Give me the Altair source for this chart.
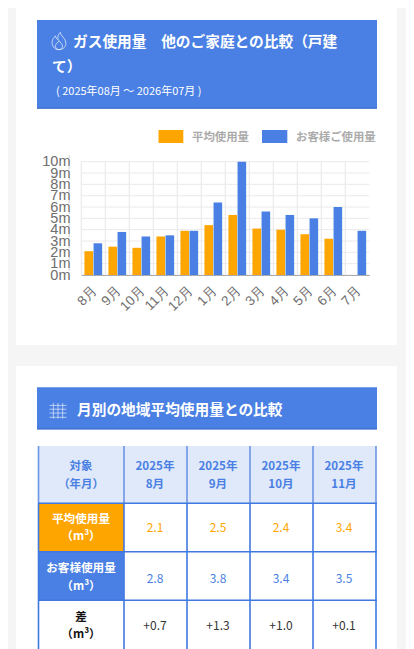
import altair as alt
import pandas as pd

months = ["8月", "9月", "10月", "11月", "12月", "1月", "2月", "3月", "4月", "5月", "6月", "7月"]
average = [2.1, 2.5, 2.4, 3.4, 3.9, 4.4, 5.3, 4.1, 4.0, 3.6, 3.2, None]
customer = [2.8, 3.8, 3.4, 3.5, 3.9, 6.4, 10.0, 5.6, 5.3, 5.0, 6.0, 3.9]
y_ticks = list(range(0, 11))
series_names = ["平均使用量", "お客様ご使用量"]

table_months = ["2025年8月", "2025年9月", "2025年10月", "2025年11月"]
table_head = [("2025年", "8月"), ("2025年", "9月"), ("2025年", "10月"), ("2025年", "11月")]
table_avg = ["2.1", "2.5", "2.4", "3.4"]
table_cust = ["2.8", "3.8", "3.4", "3.5"]
table_diff = ["+0.7", "+1.3", "+1.0", "+0.1"]

ORANGE = "#FFA500"
BLUE = "#4A7FE3"
LINE = "#3F78E0"
CJK = "Noto Sans CJK JP"
OX, OY = 8, 8
W, H = 398, 641
TY = 1.3
ONE = alt.Data(values=[{}])


def box(x0, y0, x1, y1, color):
    return alt.Chart(ONE).mark_rect(color=color).encode(
        x=alt.value(x0 - OX), x2=alt.value(x1 - OX),
        y=alt.value(y0 - OY), y2=alt.value(y1 - OY))


def txt(x, y, s, size, color, weight="bold", align="center", font=CJK):
    return alt.Chart(ONE).mark_text(text=s, fontSize=size, color=color, fontWeight=weight,
                                    align=align, baseline="middle", font=font).encode(
        x=alt.value(x - OX), y=alt.value(y - OY + TY))


def icon(x, y, path, size, width=0.8):
    return alt.Chart(ONE).mark_point(shape=path, size=size, filled=False, stroke="white",
                                     strokeWidth=width, opacity=0.85).encode(
        x=alt.value(x - OX), y=alt.value(y - OY))


FLAME = ("M0,1C-.6,1-.8,.5-.8,.15C-.8,-.2-.55,-.4-.4,-.6C-.35,-.3-.25,-.2-.1,-.15"
         "C-.2,-.5-.05,-.85.15,-1C.15,-.6.8,-.3.8,.25C.8,.65.5,1,0,1Z"
         "M0,1C-.35,1-.45,.7-.4,.5C-.35,.3-.1,.2,0,-.05C.15,.2.4,.35.4,.6C.4,.85.2,1,0,1Z")
GRID = ("M-1,-.6H1M-1,-.15H1M-1,.3H1M-1,.8H1"
        "M-.55,-.9V.95M0,-.9V.95M.55,-.9V.95")

layers = [
    box(16, 0, 397, 345, "white"),
    box(16, 366, 397, 660, "white"),
    # header 1
    box(37, 20, 377, 108.5, BLUE),
    box(37, 107.5, 377, 108.7, "#3E6FCC"),
    icon(59, 41, FLAME, 300),
    txt(73, 42, "ガス使用量　他のご家庭との比較（戸建", 14.7, "white", align="left"),
    txt(52, 67, "て）", 14.7, "white", align="left"),
    txt(56, 91, "( 2025年08月 〜 2026年07月 )", 11, "white", weight="normal", align="left"),
    # legend
    box(158.5, 130, 183.3, 143, ORANGE),
    box(262, 130, 287.3, 143, BLUE),
    txt(192, 137, series_names[0], 11.4, "#ABABAB", align="left"),
    txt(296, 137, series_names[1], 11.4, "#ABABAB", align="left"),
]

# chart
x_range = [81.3 - OX, 369.3 - OX]
y_range = [275 - OY, 161.7 - OY]
bars = pd.DataFrame(
    [{"m": m, "s": series_names[0], "v": a} for m, a in zip(months, average)] +
    [{"m": m, "s": series_names[1], "v": c} for m, c in zip(months, customer)])
grid_x = pd.DataFrame({"m": months})
grid_y = pd.DataFrame({"t": y_ticks})
x_scale = alt.Scale(domain=months, range=x_range, paddingInner=0, paddingOuter=0)
y_scale = alt.Scale(domain=[0, 10], range=y_range, nice=False, zero=True)

layers += [
    alt.Chart(grid_x).mark_rule(color="#E6E6E6", strokeWidth=1).encode(
        x=alt.X("m:N", scale=x_scale, bandPosition=0, axis=None, sort=None),
        y=alt.value(y_range[1]), y2=alt.value(y_range[0])),
    alt.Chart(grid_y).mark_rule(color="#EAEAEA", strokeWidth=1).encode(
        y=alt.Y("t:Q", scale=y_scale, axis=alt.Axis(
            orient="left", offset=-62, grid=False, domain=False, ticks=False,
            values=y_ticks, labelExpr="datum.value + 'm'", labelFontSize=14.5,
            labelColor="#6E6E6E", labelFont="Liberation Sans", labelPadding=0,
            labelOverlap=False, title=None, zindex=1)),
        x=alt.value(x_range[0]), x2=alt.value(x_range[1])),
    alt.Chart(grid_y).mark_text(text="³", fontSize=5, color="#999999", dy=-5,
                                font="Liberation Sans").encode(
        y=alt.Y("t:Q", scale=y_scale, axis=None), x=alt.value(69 - OX)),
    alt.Chart(bars).mark_bar(xOffset=-0.8).transform_filter("datum.v != null").encode(
        x=alt.X("m:N", scale=x_scale, sort=None, axis=alt.Axis(
            orient="bottom", offset=267 - H, labelAngle=-45, labelFontSize=13.5,
            labelColor="#6E6E6E", labelFont="Liberation Sans", labelPadding=8, labelOverlap=False,
            labelOffset=-3, ticks=False, domain=True, domainColor="#ABABAB", domainWidth=1.2,
            title=None, grid=False, zindex=1)),
        xOffset=alt.XOffset("s:N", sort=series_names, scale=alt.Scale(
            domain=series_names, paddingInner=0.055, paddingOuter=0.346)),
        y=alt.Y("v:Q", scale=y_scale, axis=None),
        color=alt.Color("s:N", scale=alt.Scale(domain=series_names, range=[ORANGE, BLUE]), legend=None),
    ),
]

# header 2
layers += [
    box(37, 387.3, 377, 429.3, BLUE),
    box(37, 428.3, 377, 429.5, "#3E6FCC"),
    icon(58, 410.5, GRID, 290, 0.7),
    txt(77, 410, "月別の地域平均使用量との比較", 14.7, "white", align="left"),
]

# table
col_edges = [38.5, 124, 187, 250, 313, 376]
row_edges = [503.3, 551.7, 600.3]
layers += [
    box(38.5, 446, 376, 503.3, "#DFE9FA"),
    box(38.5, 503.3, 124, 551.7, ORANGE),
    box(38.5, 551.7, 124, 600.3, BLUE),
]
for xe in col_edges:
    layers.append(box(xe - 0.8, 446, xe + 0.8, 503, "#6C95E4"))
    layers.append(box(xe - 0.8, 503, xe + 0.8, 660, LINE))
for ye in row_edges:
    layers.append(box(38, ye - 0.8, 377, ye + 0.8, LINE))

layers += [
    txt(81, 466, "対象", 11.4, BLUE),
    txt(81, 484, "（年月）", 11.4, BLUE),
    txt(81, 519, series_names[0], 11.6, "white"),
    txt(81, 536, "（m³）", 11.6, "white"),
    txt(81, 568, "お客様使用量", 11.6, "white"),
    txt(81, 586, "（m³）", 11.6, "white"),
    txt(81, 617, "差", 11.6, "#111111"),
    txt(81, 634, "（m³）", 11.6, "#111111"),
]
tcol = alt.Scale(type="point", domain=table_months, range=[155 - OX, 344 - OX], padding=0)
heads = pd.DataFrame({"m": table_months, "a": [h[0] for h in table_head], "b": [h[1] for h in table_head]})
layers += [
    alt.Chart(heads).mark_text(fontSize=11.6, fontWeight="bold", color=BLUE, font=CJK, baseline="middle").encode(
        x=alt.X("m:N", scale=tcol, axis=None, sort=None), y=alt.value(466 - OY + TY), text="a:N"),
    alt.Chart(heads).mark_text(fontSize=11.6, fontWeight="bold", color=BLUE, font=CJK, baseline="middle").encode(
        x=alt.X("m:N", scale=tcol, axis=None, sort=None), y=alt.value(484 - OY + TY), text="b:N"),
]
for vals, yy, col in [(table_avg, 527, ORANGE), (table_cust, 578, BLUE), (table_diff, 625, "#333333")]:
    d = pd.DataFrame({"m": table_months, "t": vals})
    layers.append(alt.Chart(d).mark_text(fontSize=12, color=col, font=CJK, baseline="middle").encode(
        x=alt.X("m:N", scale=tcol, axis=None, sort=None), y=alt.value(yy - OY + TY), text="t:N"))

chart = alt.layer(*layers).resolve_scale(x="independent", y="independent", color="independent").properties(
    width=W, height=H, padding=0, background="#F5F5F5",
    autosize=alt.AutoSizeParams(type="none"),
).configure_view(stroke=None)

chart.save("out.html", embed_options={"renderer": "svg", "actions": False})
